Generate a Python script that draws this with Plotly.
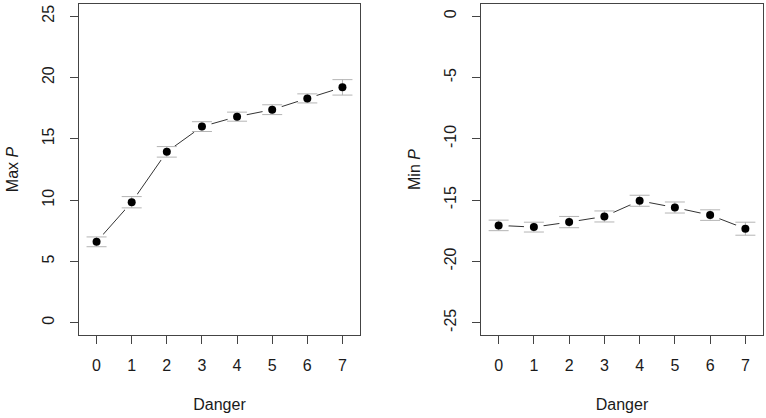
import plotly.graph_objects as go

danger = [0, 1, 2, 3, 4, 5, 6, 7]
max_p = [6.6, 9.83, 13.94, 16.0, 16.81, 17.38, 18.3, 19.2]
max_p_err = [0.4, 0.46, 0.43, 0.4, 0.37, 0.4, 0.37, 0.63]
min_p = [-17.06, -17.2, -16.79, -16.33, -15.05, -15.6, -16.22, -17.33]
min_p_err = [0.43, 0.4, 0.46, 0.45, 0.45, 0.45, 0.43, 0.53]

x_ticks = [0, 1, 2, 3, 4, 5, 6, 7]
max_ticks = [0, 5, 10, 15, 20, 25]
min_ticks = [-25, -20, -15, -10, -5, 0]

FONT = "Liberation Sans, Arial, sans-serif"
TXT = "#1a1a1a"
AX = "#444444"

fig = go.Figure()

def add_panel(xa, ya, y, err):
    # connecting line with gaps around points (R type="b")
    fig.add_trace(go.Scatter(
        x=danger, y=y, mode="lines+markers", xaxis=xa, yaxis=ya,
        line=dict(color="#333333", width=1),
        marker=dict(color="white", size=20, line=dict(width=0)),
        showlegend=False, hoverinfo="skip"))
    fig.add_trace(go.Scatter(
        x=danger, y=y, mode="markers", xaxis=xa, yaxis=ya,
        marker=dict(color="black", size=8, line=dict(width=0)),
        error_y=dict(type="data", array=err, visible=True,
                     color="#b4b4b4", thickness=1, width=10),
        showlegend=False))

add_panel("x", "y", max_p, max_p_err)
add_panel("x2", "y2", min_p, min_p_err)

def xaxis(domain, anchor):
    return dict(domain=domain, anchor=anchor, range=[-0.5, 7.5],
                tickmode="array", tickvals=x_ticks,
                ticktext=[str(v) for v in x_ticks],
                ticks="outside", ticklen=8, tickcolor=AX, tickwidth=1,
                showline=True, mirror=True, linecolor=AX, linewidth=1,
                showgrid=False, zeroline=False, ticklabelstandoff=8,
                tickfont=dict(family=FONT, size=16, color=TXT),
                title=dict(text="Danger", standoff=25,
                           font=dict(family=FONT, size=16, color=TXT)),
                automargin=False)

def yaxis(domain, anchor, rng, ticks, title):
    return dict(domain=domain, anchor=anchor, range=rng,
                tickmode="array", tickvals=ticks,
                ticktext=[str(v) for v in ticks], tickangle=-90,
                ticks="outside", ticklen=8, tickcolor=AX, tickwidth=1,
                showline=True, mirror=True, linecolor=AX, linewidth=1,
                showgrid=False, zeroline=False, ticklabelstandoff=10,
                tickfont=dict(family=FONT, size=16, color=TXT),
                title=dict(text=title, standoff=16,
                           font=dict(family=FONT, size=16, color=TXT)),
                automargin=False)

ydom = [1 - 335 / 418, 1 - 4 / 418]
fig.update_layout(
    width=766, height=418,
    margin=dict(l=0, r=0, t=0, b=0),
    paper_bgcolor="white", plot_bgcolor="white",
    xaxis=xaxis([79 / 766, 360 / 766], "y"),
    yaxis=yaxis(ydom, "x", [-1, 26], max_ticks, "Max <i>P</i>"),
    xaxis2=xaxis([481 / 766, 763 / 766], "y2"),
    yaxis2=yaxis(ydom, "x2", [-26, 1], min_ticks, "Min <i>P</i>"),
)

fig.write_html("out.html", config={"displayModeBar": False},
               post_script="document.body.style.margin='0';"
                           "document.body.style.overflow='hidden';")
